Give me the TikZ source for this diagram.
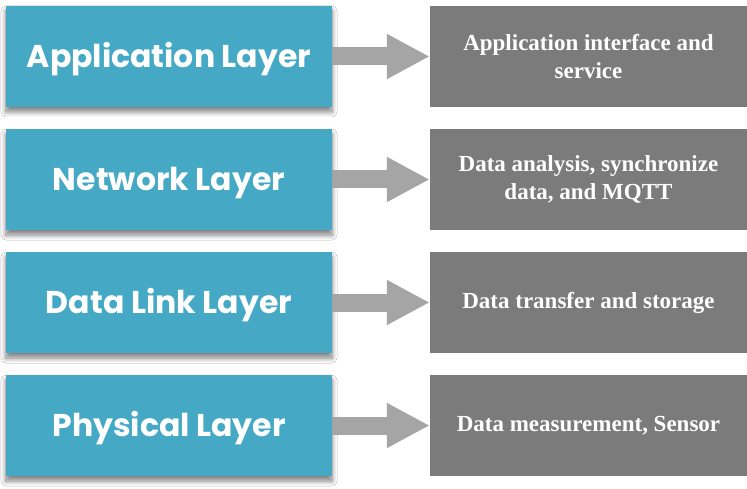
\documentclass[tikz,border=0pt]{standalone}
\usepackage{fontspec}
\setmainfont{Liberation Serif}
\newfontfamily\layerfont{Poppins}
\usetikzlibrary{arrows.meta,shadows.blur}
\definecolor{layerblue}{HTML}{45A9C5}
\definecolor{descgray}{HTML}{7B7B7B}
\definecolor{arrowgray}{HTML}{A5A5A5}
\tikzset{
  layerbox/.style={fill=layerblue, draw=none, minimum width=326pt, minimum height=101pt,
    inner sep=0pt, text=white, font=\layerfont\bfseries\fontsize{31.5}{36}\selectfont,
    text height=22pt, text depth=0pt,
    blur shadow={shadow xshift=0pt, shadow yshift=-5pt, shadow blur radius=5pt,
      shadow blur steps=8, shadow opacity=50}},
  descbox/.style={fill=descgray, draw=none, minimum width=317pt, minimum height=101pt,
    inner sep=0pt, text=white, align=center, font=\bfseries\fontsize{23}{28}\selectfont},
  bigarrow/.style={arrowgray, line width=18pt, -{Triangle[length=43pt,width=42pt]}}
}
\begin{document}
\begin{tikzpicture}[x=1pt,y=-1pt]
\useasboundingbox (0,0) rectangle (747,489);
\fill[white] (0,0) rectangle (747,489);
\node[layerbox] (l1) at (169,56.5) {Application Layer};
\node[layerbox] (l2) at (169,179.5) {Network Layer};
\node[layerbox] (l3) at (169,302.5) {Data Link Layer};
\node[layerbox] (l4) at (169,425.5) {Physical Layer};
\node[descbox] (d1) at (588.5,56.5) {Application interface and\\service};
\node[descbox] (d2) at (588.5,179.5) {Data analysis, synchronize\\data, and MQTT};
\node[descbox] (d3) at (588.5,302.5) {Data transfer and storage};
\node[descbox] (d4) at (588.5,425.5) {Data measurement, Sensor};
\foreach \i in {1,2,3,4} \draw[bigarrow] (l\i.east) -- (d\i.west);
\end{tikzpicture}
\end{document}
